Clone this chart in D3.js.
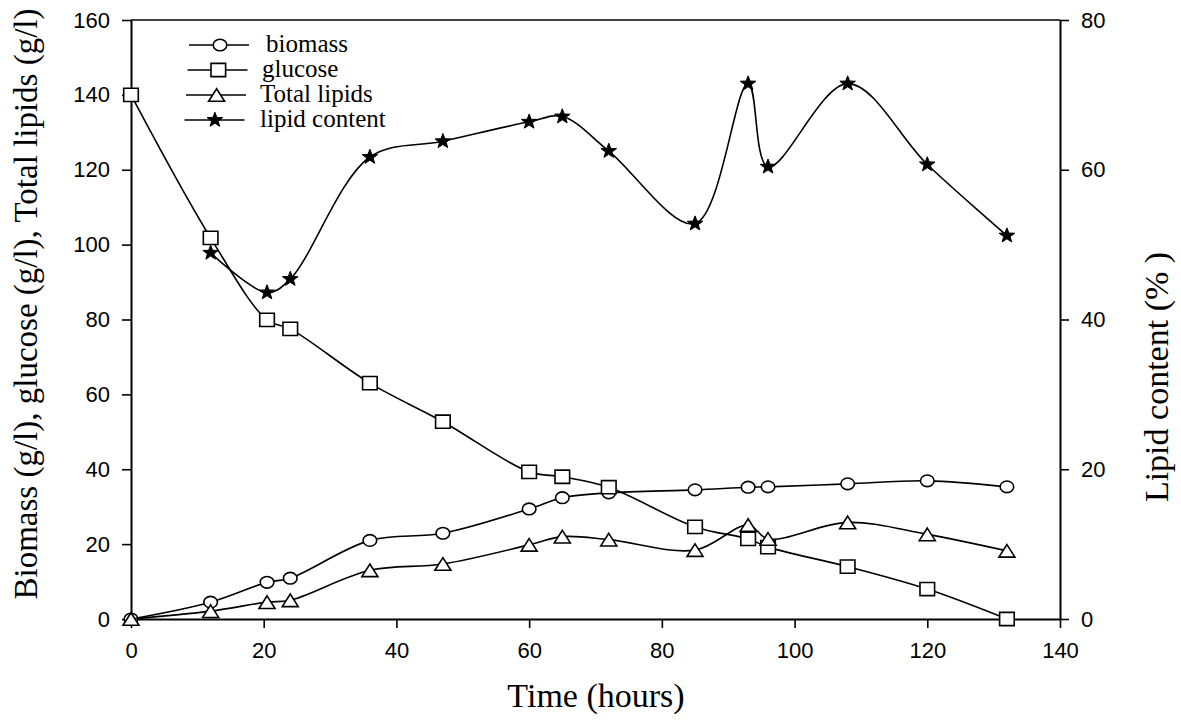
<!DOCTYPE html>
<html>
<head>
<meta charset="utf-8">
<script src="https://cdn.jsdelivr.net/npm/d3@7/dist/d3.min.js"></script>
<style>
  html, body { margin: 0; padding: 0; background: #fff; }
  svg { display: block; }
  .tick text { font-family: "Liberation Sans", Arial, sans-serif; font-size: 22px; fill: #000; }
  .title { font-family: "Liberation Serif", "Times New Roman", serif; font-size: 34px; fill: #000; }
  .title.left { font-size: 33px; }
  .legend text { font-family: "Liberation Serif", "Times New Roman", serif; font-size: 25px; fill: #000; }
</style>
</head>
<body>
<svg id="chart" width="1181" height="722"></svg>
<script>
// Sampling times (hours)
const hours = [0, 12, 20.5, 24, 36, 47, 60, 65, 72, 85, 93, 96, 108, 120, 132];
// Left axis series (g/l)
const biomass = [0, 4.5, 9.8, 10.9, 21.0, 22.9, 29.4, 32.4, 33.7, 34.5, 35.2, 35.3, 36.1, 36.9, 35.3];
const glucose = [140, 101.8, 79.9, 77.5, 63.0, 52.7, 39.3, 38.0, 35.2, 24.6, 21.4, 19.2, 14.0, 8.0, 0];
const totalLipids = [0, 2.1, 4.5, 5.0, 13.0, 14.7, 19.8, 22.0, 21.2, 18.4, 25.1, 21.4, 25.8, 22.6, 18.2];
// Right axis series (% of biomass), first measured at 12 h
const contentHours = [12, 20.5, 24, 36, 47, 60, 65, 72, 85, 93, 96, 108, 120, 132];
const lipidContent = [48.9, 43.6, 45.4, 61.7, 63.8, 66.4, 67.1, 62.5, 52.8, 71.5, 60.4, 71.5, 60.7, 51.2];
// Axis ticks
const xTicks = [0, 20, 40, 60, 80, 100, 120, 140];
const yLeftTicks = [0, 20, 40, 60, 80, 100, 120, 140, 160];
const yRightTicks = [0, 20, 40, 60, 80];
// Legend entries
const legendLabels = ["biomass", "glucose", "Total lipids", "lipid content"];
const legendSymbols = ["circle", "square", "triangle", "star"];

const svg = d3.select("#chart");
const m = { left: 131, right: 1060, top: 20, bottom: 619 };

const x = d3.scaleLinear().domain([0, 140]).range([m.left, m.right]);
const yL = d3.scaleLinear().domain([0, 160]).range([m.bottom, m.top]);
const yR = d3.scaleLinear().domain([0, 80]).range([m.bottom, m.top]);

// Top border of the plot frame
svg.append("line")
  .attr("x1", m.left).attr("x2", m.right)
  .attr("y1", m.top).attr("y2", m.top)
  .attr("stroke", "#000").attr("stroke-width", 1.6);

function styleAxis(g) {
  g.selectAll(".domain").attr("stroke", "#000").attr("stroke-width", 2);
  g.selectAll(".tick line").attr("stroke", "#000").attr("stroke-width", 1.6);
}

svg.append("g")
  .attr("transform", `translate(0,${m.bottom})`)
  .call(d3.axisBottom(x).tickValues(xTicks).tickSize(9).tickSizeOuter(0).tickPadding(10).tickFormat(d3.format("d")))
  .call(styleAxis)
  .call(g => g.selectAll(".tick text").attr("dy", "0.9em"));

svg.append("g")
  .attr("transform", `translate(${m.left},0)`)
  .call(d3.axisLeft(yL).tickValues(yLeftTicks).tickSize(9).tickSizeOuter(0).tickPadding(12).tickFormat(d3.format("d")))
  .call(styleAxis);

svg.append("g")
  .attr("transform", `translate(${m.right},0)`)
  .call(d3.axisRight(yR).tickValues(yRightTicks).tickSize(9).tickSizeOuter(0).tickPadding(12).tickFormat(d3.format("d")))
  .call(styleAxis);

// Marker shapes
function markerPath(type) {
  switch (type) {
    case "circle": {
      const rx = 6.8, ry = 5.8;
      return `M${-rx},0A${rx},${ry} 0 1,0 ${rx},0A${rx},${ry} 0 1,0 ${-rx},0Z`;
    }
    case "square": {
      const w = 7.3, h = 6.6;
      return `M${-w},${-h}H${w}V${h}H${-w}Z`;
    }
    case "triangle": {
      const w = 8, h = 6.3;
      return `M0,${-h}L${w},${h}L${-w},${h}Z`;
    }
    case "star": {
      const R = 7.8, r = 3.2;
      const pts = [];
      for (let i = 0; i < 10; i++) {
        const a = -Math.PI / 2 + i * Math.PI / 5;
        const rad = i % 2 === 0 ? R : r;
        pts.push([rad * Math.cos(a) * 1.05, rad * Math.sin(a)]);
      }
      return "M" + pts.map(p => p[0].toFixed(2) + "," + p[1].toFixed(2)).join("L") + "Z";
    }
  }
}

const curve = d3.curveCatmullRom.alpha(0.5);

function drawSeries(xs, ys, yScale, symbol) {
  const pts = xs.map((t, i) => [x(t), yScale(ys[i])]);
  svg.append("path")
    .attr("d", d3.line().curve(curve)(pts))
    .attr("fill", "none").attr("stroke", "#000").attr("stroke-width", 1.6);
  svg.append("g").selectAll("path")
    .data(pts).join("path")
    .attr("transform", d => `translate(${d[0]},${d[1]})`)
    .attr("d", markerPath(symbol))
    .attr("fill", symbol === "star" ? "#000" : "#fff")
    .attr("stroke", "#000").attr("stroke-width", symbol === "star" ? 1 : 1.6)
    .attr("stroke-linejoin", "miter");
}

drawSeries(hours, biomass, yL, "circle");
drawSeries(hours, glucose, yL, "square");
drawSeries(hours, totalLipids, yL, "triangle");
drawSeries(contentHours, lipidContent, yR, "star");

// Legend
const legend = svg.append("g").attr("class", "legend");
legendLabels.forEach((label, i) => {
  const cy = 45 + i * 25;
  const g = legend.append("g");
  g.append("line")
    .attr("x1", 189 - i * 1.5).attr("x2", 249 - i * 1.5)
    .attr("y1", cy).attr("y2", cy)
    .attr("stroke", "#000").attr("stroke-width", 1.6);
  g.append("path")
    .attr("transform", `translate(${220 - i * 1.7},${cy})`)
    .attr("d", markerPath(legendSymbols[i]))
    .attr("fill", legendSymbols[i] === "star" ? "#000" : "#fff")
    .attr("stroke", "#000").attr("stroke-width", legendSymbols[i] === "star" ? 1 : 1.6);
  g.append("text")
    .attr("x", i === 0 ? 266 : (i === 1 ? 262 : 260))
    .attr("y", cy + 7)
    .text(label);
});

// Axis titles
svg.append("text").attr("class", "title")
  .attr("x", 596).attr("y", 707)
  .attr("text-anchor", "middle")
  .text("Time (hours)");

svg.append("text").attr("class", "title left")
  .attr("transform", "translate(37,304) rotate(-90)")
  .attr("text-anchor", "middle")
  .text("Biomass (g/l), glucose (g/l), Total lipids (g/l)");

svg.append("text").attr("class", "title")
  .attr("transform", "translate(1168,377) rotate(-90)")
  .attr("text-anchor", "middle")
  .text("Lipid content (% )");
</script>
</body>
</html>
